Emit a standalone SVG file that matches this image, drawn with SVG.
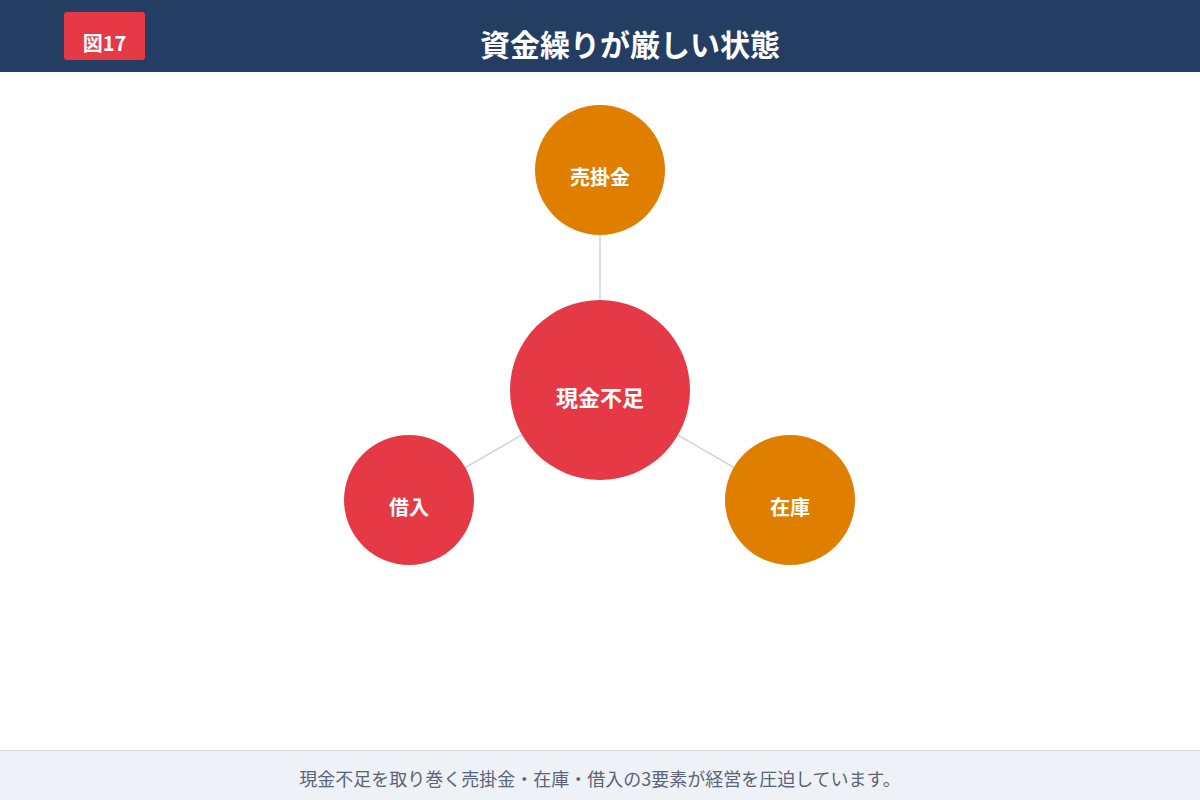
<svg xmlns="http://www.w3.org/2000/svg" width="1200" height="800" viewBox="0 0 1200 800">
<style>
text{font-family:"Noto Sans CJK JP","Noto Sans",sans-serif}
.lbl{fill:#fff;font-weight:700;text-anchor:middle;dominant-baseline:central}
.conn{stroke:#cbd5e1;stroke-width:1.5;fill:none}
</style>
<rect x="0" y="0" width="1200" height="800" fill="#ffffff"/>
<g id="header">
<rect x="0" y="0" width="1200" height="72" fill="#243d63"/>
<rect x="64" y="12" width="81" height="48" rx="3" fill="#e63946"/>
<text x="104.5" y="51" text-anchor="middle" font-size="20" font-weight="700" fill="#fff">図17</text>
<text x="630" y="56" text-anchor="middle" font-size="30" font-weight="700" fill="#fff">資金繰りが厳しい状態</text>
</g>
<g id="connectors">
<line class="conn" x1="600" y1="390" x2="600" y2="170"/>
<line class="conn" x1="600" y1="390" x2="409" y2="500"/>
<line class="conn" x1="600" y1="390" x2="790" y2="500"/>
</g>
<g id="node-urikake">
<circle cx="600" cy="170" r="65" fill="#e07e00"/>
<text class="lbl" x="600" y="176" font-size="20">売掛金</text>
</g>
<g id="node-genkin">
<circle cx="600" cy="390" r="90" fill="#e63946"/>
<text class="lbl" x="600" y="396" font-size="22">現金不足</text>
</g>
<g id="node-kariire">
<circle cx="409" cy="500" r="65" fill="#e63946"/>
<text class="lbl" x="409" y="506" font-size="20">借入</text>
</g>
<g id="node-zaiko">
<circle cx="790" cy="500" r="65" fill="#e07e00"/>
<text class="lbl" x="790" y="506" font-size="20">在庫</text>
</g>
<g id="footer">
<rect x="0" y="750" width="1200" height="50" fill="#eef1f6"/>
<line x1="0" y1="750.5" x2="1200" y2="750.5" stroke="#d5dbe5" stroke-width="1"/>
<text x="600" y="786" text-anchor="middle" font-size="18" fill="#5a6478">現金不足を取り巻く売掛金・在庫・借入の3要素が経営を圧迫しています。</text>
</g>
</svg>
